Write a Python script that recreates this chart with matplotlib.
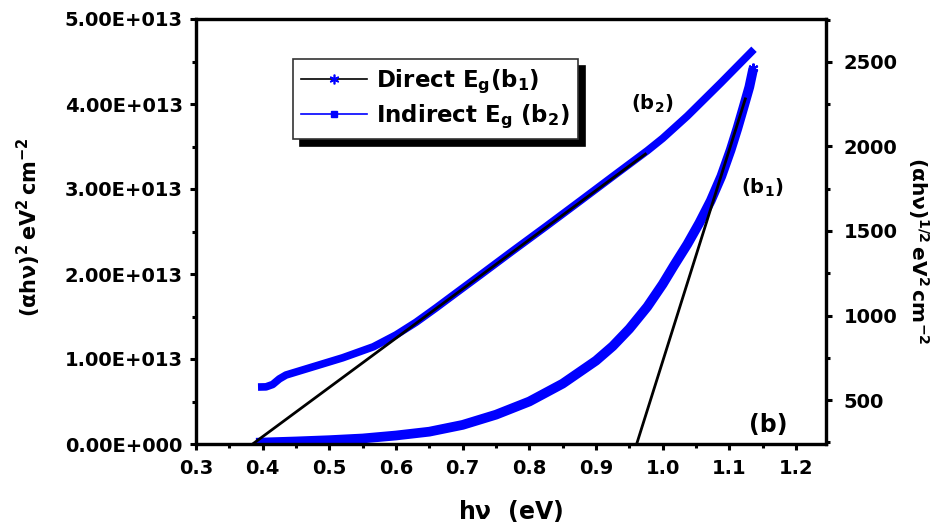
import matplotlib
matplotlib.use("Agg")
import matplotlib.pyplot as plt
from matplotlib.lines import Line2D
from matplotlib.ticker import FuncFormatter, MultipleLocator
import math

plt.rcParams['font.family'] = ['DejaVu Sans']
plt.rcParams['font.weight'] = 'bold'
plt.rcParams['mathtext.fontset'] = 'custom'
plt.rcParams['mathtext.rm'] = 'DejaVu Sans:bold'
plt.rcParams['mathtext.bf'] = 'DejaVu Sans:bold'
plt.rcParams['mathtext.it'] = 'DejaVu Sans:bold'
plt.rcParams['mathtext.sf'] = 'DejaVu Sans:bold'
plt.rcParams['mathtext.default'] = 'bf'

# Direct band gap (αhν)^2, left axis
direct_x = [0.39, 0.45, 0.50, 0.55, 0.60, 0.65, 0.70, 0.75, 0.80, 0.85,
            0.90, 0.925, 0.95, 0.977, 1.00, 1.017, 1.037, 1.055, 1.072,
            1.088, 1.102, 1.112, 1.122, 1.130, 1.136]
direct_y = [0.015e13, 0.03e13, 0.045e13, 0.065e13, 0.10e13, 0.145e13, 0.225e13,
            0.345e13, 0.50e13, 0.71e13, 0.98e13, 1.15e13, 1.355e13, 1.615e13,
            1.88e13, 2.10e13, 2.35e13, 2.60e13, 2.86e13, 3.15e13, 3.46e13,
            3.71e13, 3.98e13, 4.20e13, 4.42e13]

# Indirect band gap (αhν)^1/2, right axis
indirect_x = [0.393, 0.405, 0.415, 0.425, 0.435, 0.47, 0.52, 0.566, 0.60, 0.63,
              0.66, 0.69, 0.726, 0.776, 0.826, 0.877, 0.927, 0.977, 1.00,
              1.037, 1.087, 1.137]
indirect_y = [577, 578, 592, 625, 648, 690, 750, 815, 885, 960, 1045, 1133,
              1238, 1385, 1530, 1680, 1828, 1975, 2048, 2180, 2375, 2575]

# Linear fits (Tauc extrapolation)
direct_fit_x = [0.961, 1.124]
direct_fit_y = [0.0, 4.06e13]
indirect_fit_x = [0.385, 0.974]
indirect_fit_y = [240, 1955]

x_ticks = [0.3, 0.4, 0.5, 0.6, 0.7, 0.8, 0.9, 1.0, 1.1, 1.2]
left_ticks = [0, 1e13, 2e13, 3e13, 4e13, 5e13]
right_ticks = [500, 1000, 1500, 2000, 2500]

fig = plt.figure(figsize=(9.42, 5.26), dpi=100)
ax = fig.add_axes([196/942, 1-444/526, 630/942, 425/526])
ax2 = ax.twinx()

blue = '#0000ff'
ax.plot(direct_x, direct_y, color=blue, lw=7, solid_capstyle='butt',
        solid_joinstyle='round', zorder=2)
ax.plot(direct_fit_x, direct_fit_y, color='black', lw=2, zorder=3)
ax.plot([direct_x[-1]], [direct_y[-1]], marker=(6, 2, 0), color=blue, ms=7,
        mew=1.5, zorder=3)

ax2.plot(indirect_x, indirect_y, color=blue, lw=5.5, solid_capstyle='butt',
         solid_joinstyle='round', zorder=2)
ax2.plot(indirect_fit_x, indirect_fit_y, color='black', lw=2, zorder=3)

ax.set_xlim(0.3, 1.245)
ax.set_ylim(0, 5e13)
ax2.set_ylim(240, 2754)

def sci(v, pos):
    if v == 0:
        return "0.00E+000"
    e = int(math.floor(math.log10(abs(v))))
    m = v / 10**e
    return f"{m:.2f}E{'+' if e >= 0 else '-'}{abs(e):03d}"

ax.set_xticks(x_ticks)
ax.xaxis.set_major_formatter(FuncFormatter(lambda v, p: f"{v:.1f}"))
ax.xaxis.set_minor_locator(MultipleLocator(0.05))
ax.set_yticks(left_ticks)
ax.yaxis.set_major_formatter(FuncFormatter(sci))
ax.yaxis.set_minor_locator(MultipleLocator(0.5e13))
ax2.set_yticks(right_ticks)
ax2.yaxis.set_minor_locator(MultipleLocator(250))

for a in (ax, ax2):
    for s in a.spines.values():
        s.set_linewidth(2.3)
    a.tick_params(which='major', direction='out', length=4.5, width=2.2,
                  labelsize=14)
    a.tick_params(which='minor', direction='out', length=3, width=2.2)
ax.tick_params(axis='x', which='major', pad=6)
ax.tick_params(axis='y', which='major', pad=5)
ax2.tick_params(axis='y', which='major', pad=8)
for lab in ax.get_xticklabels() + ax.get_yticklabels() + ax2.get_yticklabels():
    lab.set_fontweight('bold')

ax.set_xlabel(r"h$\nu$  (eV)", fontsize=17, fontweight='bold')
ax.xaxis.set_label_coords(0.5, -0.128)
ax.set_ylabel(r"$(\alpha h\nu)^2\,eV^2\,cm^{-2}$", fontsize=15)
ax.yaxis.set_label_coords(-0.243, 0.51)
ax2.set_ylabel(r"$(\alpha h\nu)^{1/2}\,eV^2\,cm^{-2}$", fontsize=14.5,
               rotation=-90, va='center', ha='center')
ax2.yaxis.set_label_coords(1.146, 0.455)

ax.text(0.724, 0.80, r"(b$_2$)", transform=ax.transAxes, fontsize=14,
        ha='center', va='center')
ax.text(0.898, 0.603, r"(b$_1$)", transform=ax.transAxes, fontsize=14,
        ha='center', va='center')
ax.text(0.908, 0.045, "(b)", transform=ax.transAxes, fontsize=17,
        ha='center', va='center', fontweight='bold')

handles = [
    Line2D([], [], color='black', lw=1.2, marker=(6, 2, 0), ms=7,
           markeredgecolor=blue, markerfacecolor=blue, markeredgewidth=1.2),
    Line2D([], [], color=blue, lw=1.2, marker='s', ms=5,
           markeredgecolor=blue, markerfacecolor=blue),
]
labels = [r"Direct E$_g$(b$_1$)", r"Indirect E$_g$ (b$_2$)"]
leg = ax2.legend(handles, labels, loc='upper left',
                 bbox_to_anchor=(0.1535, 0.905), fontsize=16.5, frameon=True,
                 fancybox=False, handlelength=2.9, handletextpad=0.4,
                 borderpad=0.35, labelspacing=0.3, borderaxespad=0,
                 shadow={'ox': 5, 'oy': -5, 'color': 'black', 'alpha': 1},
                 numpoints=1)
leg.get_frame().set_edgecolor('#333333')
leg.get_frame().set_linewidth(1.2)
leg.set_zorder(10)

fig.savefig("out.png", dpi=100)
